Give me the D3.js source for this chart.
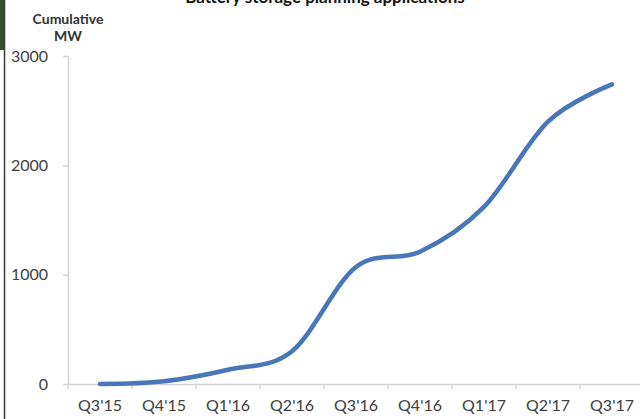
<!DOCTYPE html>
<html>
<head>
<meta charset="utf-8">
<script src="https://d3js.org/d3.v7.min.js"></script>
<style>
  body { margin: 0; background: #fff; }
  svg { display: block; }
  .axis text { font-family: Lato, "Open Sans", sans-serif; font-size: 16px; fill: #404040; }
  .axis path, .axis line { stroke: #d4d4d4; stroke-width: 1.5; }
</style>
</head>
<body>
<svg width="640" height="419"></svg>
<script>

// data
var quarters = ["Q3'15", "Q4'15", "Q1'16", "Q2'16", "Q3'16", "Q4'16", "Q1'17", "Q2'17", "Q3'17"];
var cumulativeMW = [0, 25, 130, 300, 1070, 1210, 1620, 2400, 2740];
var yTicks = [0, 1000, 2000, 3000];

var svg = d3.select("svg");

var x = d3.scaleBand().domain(quarters).range([68, 644]).padding(0);
var y = d3.scaleLinear().domain([0, 3000]).range([384, 56]);

// left strip from the cropped slide
svg.append("rect").attr("x", 0).attr("y", 0).attr("width", 4).attr("height", 50).attr("fill", "#34502d");
svg.append("line").attr("x1", 4.5).attr("x2", 4.5).attr("y1", 0).attr("y2", 419)
   .attr("stroke", "#3a3a3a").attr("stroke-width", 1.5);

// title, cut off at the top like in the slide
svg.append("text")
   .attr("x", 325).attr("y", 3)
   .attr("text-anchor", "middle")
   .style("font-family", "Lato, sans-serif").style("font-weight", "bold").style("font-size", "17px")
   .attr("fill", "#111")
   .text("Battery storage planning applications");

svg.append("text")
   .attr("x", 68).attr("y", 24)
   .attr("text-anchor", "middle")
   .style("font-family", "Lato, sans-serif").style("font-weight", "bold").style("font-size", "14px")
   .attr("fill", "#333")
   .text("Cumulative");
svg.append("text")
   .attr("x", 68).attr("y", 41)
   .attr("text-anchor", "middle")
   .style("font-family", "Lato, sans-serif").style("font-weight", "bold").style("font-size", "14px")
   .attr("fill", "#333")
   .text("MW");

// y axis
svg.append("g")
   .attr("class", "axis")
   .attr("transform", "translate(68,0)")
   .call(d3.axisLeft(y).tickValues(yTicks).tickSize(5).tickSizeOuter(0).tickPadding(15).tickFormat(d3.format("d")));

// x axis: labels at band centres, tick marks at band edges
var xg = svg.append("g")
   .attr("class", "axis")
   .attr("transform", "translate(0,384)")
   .call(d3.axisBottom(x).tickSize(0).tickSizeOuter(0).tickPadding(16));

xg.selectAll(".edge")
  .data(quarters)
  .enter().append("line")
  .attr("class", "edge")
  .attr("x1", function(d) { return x(d); })
  .attr("x2", function(d) { return x(d); })
  .attr("y1", 0).attr("y2", 5);

var line = d3.line()
   .x(function(d, i) { return x(quarters[i]) + x.bandwidth() / 2; })
   .y(function(d) { return y(d); })
   .curve(d3.curveCardinal.tension(0));

svg.append("path")
   .datum(cumulativeMW)
   .attr("d", line)
   .attr("fill", "none")
   .attr("stroke", "#4877b9")
   .attr("stroke-width", 4.5)
   .attr("stroke-linecap", "round");

</script>
</body>
</html>
